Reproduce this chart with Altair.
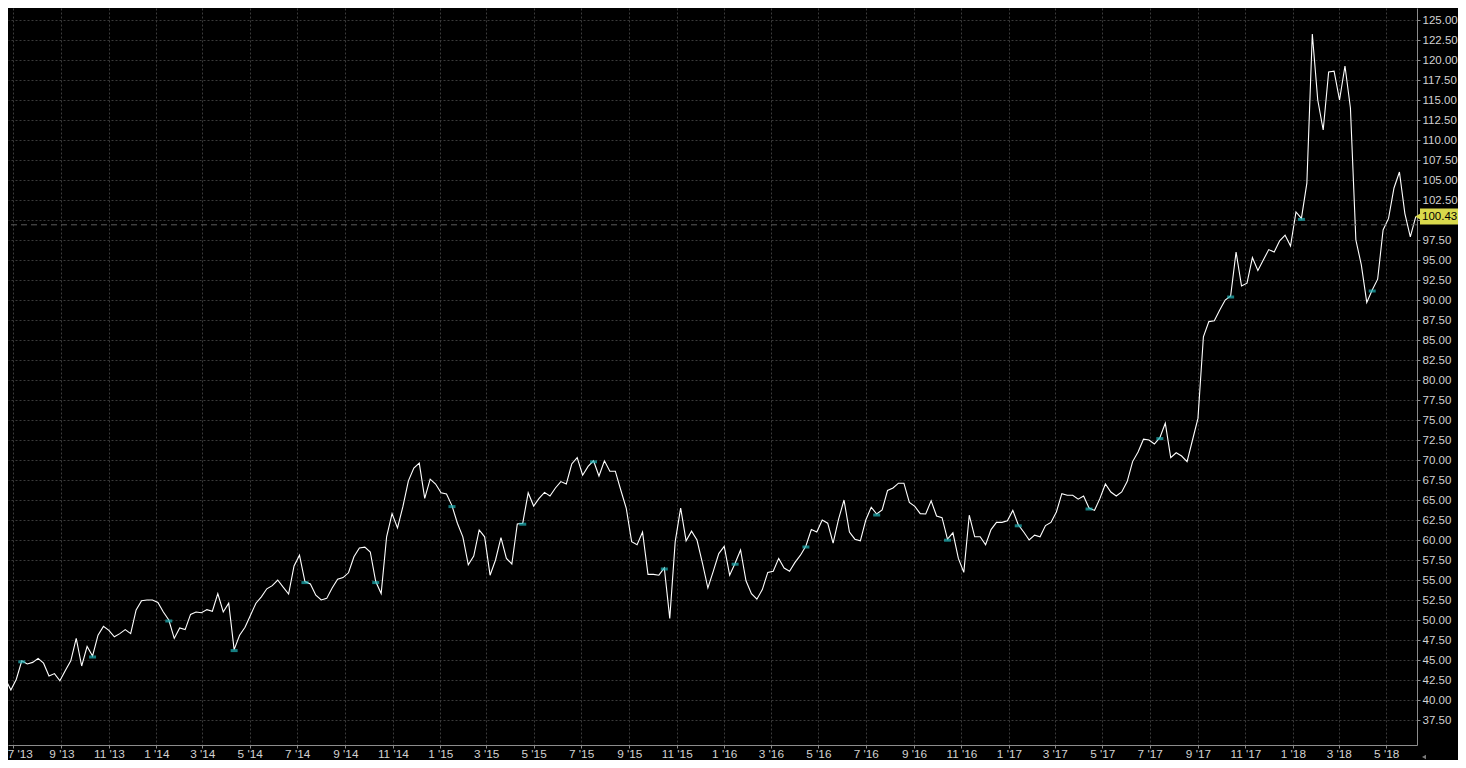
import altair as alt
import pandas as pd

# ---------------- data (weekly closes) ----------------
start_date = "2013-06-14"
closes = [
    43.1, 42.6, 41.25, 42.6, 44.9, 44.5, 44.7, 45.2, 44.6, 43.0,
    43.3, 42.4, 43.7, 44.9, 47.7, 44.25, 46.7, 45.5, 48.1, 49.2,
    48.7, 47.9, 48.3, 48.8, 48.3, 51.25, 52.4, 52.5, 52.5, 52.2,
    51.0, 50.0, 47.7, 49.0, 48.8, 50.7, 51.0, 50.9, 51.3, 51.1,
    53.3, 51.0, 52.1, 46.3, 48.1, 49.1, 50.6, 52.1, 52.9, 53.9,
    54.3, 55.0, 54.1, 53.25, 56.75, 58.1, 54.8, 54.5, 53.1, 52.5,
    52.7, 54.0, 55.1, 55.3, 55.9, 57.9, 59.0, 59.1, 58.5, 54.8,
    53.3, 60.4, 63.3, 61.5, 64.2, 67.4, 69.0, 69.6, 65.2, 67.6,
    67.0, 65.9, 65.75, 64.3, 62.1, 60.4, 56.9, 58.0, 61.25, 60.4,
    55.6, 57.5, 60.3, 57.7, 57.0, 62.0, 62.1, 65.9, 64.25, 65.2,
    65.95, 65.5, 66.5, 67.3, 67.0, 69.5, 70.3, 68.1, 69.2, 69.9,
    68.0, 69.9, 68.6, 68.6, 66.25, 64.0, 59.8, 59.4, 61.0, 55.7,
    55.7, 55.6, 56.5, 50.2, 59.8, 64.0, 59.9, 61.1, 60.0, 57.1,
    54.0, 56.1, 58.3, 59.2, 55.6, 57.1, 58.75, 54.9, 53.3, 52.6,
    53.8, 55.95, 56.1, 57.7, 56.5, 56.1, 57.2, 58.1, 59.25, 61.3,
    61.0, 62.5, 62.1, 59.6, 62.6, 65.0, 61.0, 60.1, 59.9, 62.5,
    64.1, 63.25, 63.75, 66.2, 66.5, 67.1, 67.1, 64.7, 64.2, 63.3,
    63.25, 64.9, 63.0, 62.8, 60.1, 60.9, 57.7, 55.95, 63.1, 60.4,
    60.4, 59.4, 61.3, 62.2, 62.2, 62.4, 63.7, 61.9, 61.0, 60.0,
    60.6, 60.4, 61.8, 62.2, 63.5, 65.8, 65.6, 65.6, 65.1, 65.5,
    64.0, 63.7, 65.2, 67.0, 66.0, 65.5, 66.0, 67.3, 69.8, 71.0,
    72.6, 72.5, 72.0, 72.8, 74.6, 70.3, 70.9, 70.5, 69.8, 72.5,
    75.2, 85.4, 87.3, 87.4, 88.75, 90.0, 90.5, 96.0, 91.75, 92.1,
    95.3, 93.7, 95.0, 96.3, 96.0, 97.4, 98.1, 96.75, 101.0, 100.2,
    104.6, 123.25, 115.0, 111.25, 118.5, 118.6, 115.0, 119.25, 114.0, 97.5,
    94.4, 89.7, 91.25, 92.6, 98.75, 100.2, 104.0, 106.0, 100.8, 97.9,
    100.43,
]
# weeks (positions in the series) that carry the small cyan event marker
event_weeks = [4, 17, 31, 43, 56, 69, 83, 96, 109, 122, 135, 148, 161, 174,
               187, 200, 213, 226, 239, 252]
last_price = 100.43
last_label = "100.43"
prev_line = 99.4

x_tick_months = [(2013, 7), (2013, 9), (2013, 11),
                 (2014, 1), (2014, 3), (2014, 5), (2014, 7), (2014, 9), (2014, 11),
                 (2015, 1), (2015, 3), (2015, 5), (2015, 7), (2015, 9), (2015, 11),
                 (2016, 1), (2016, 3), (2016, 5), (2016, 7), (2016, 9), (2016, 11),
                 (2017, 1), (2017, 3), (2017, 5), (2017, 7), (2017, 9), (2017, 11),
                 (2018, 1), (2018, 3), (2018, 5)]
y_ticks = [37.5, 40.0, 42.5, 45.0, 47.5, 50.0, 52.5, 55.0, 57.5, 60.0, 62.5,
           65.0, 67.5, 70.0, 72.5, 75.0, 77.5, 80.0, 82.5, 85.0, 87.5, 90.0,
           92.5, 95.0, 97.5, 100.0, 102.5, 105.0, 107.5, 110.0, 112.5, 115.0,
           117.5, 120.0, 122.5, 125.0]

# ---------------- tables ----------------
dates = pd.date_range(start_date, periods=len(closes), freq="7D")
df = pd.DataFrame({"date": dates, "close": closes})
ev = df.iloc[event_weeks].reset_index(drop=True)
lbl = pd.DataFrame({"close": [last_price],
                    "lo": [last_price - 1.0], "hi": [last_price + 1.0],
                    "txt": [last_label]})
prev_df = pd.DataFrame({"close": [prev_line]})
one = pd.DataFrame({"a": [0]})

FONT = "Liberation Sans"
W, H = 1409, 737

x_scale = alt.Scale(domain=[alt.DateTime(year=2013, month=6, date=24, hours=7),
                            alt.DateTime(year=2018, month=6, date=9, hours=14)])
y_scale = alt.Scale(domain=[34.375, 126.5], nice=False, zero=False)

x_axis = alt.Axis(
    values=[alt.DateTime(year=y, month=m, date=1) for y, m in x_tick_months],
    format="%-m '%y", formatType="time", title=None, orient="bottom",
    labelFlush=8, labelFlushOffset=6, labelOverlap=False,
    tickSize=3, labelPadding=0, grid=True, labelFontSize=11.8,
)
y_axis = alt.Axis(
    values=y_ticks, format=".2f", title=None, orient="right",
    labelAlign="left", labelPadding=2, tickSize=3, grid=True, labelOverlap=False,
    labelFontSize=11.5,
    labelExpr="abs(datum.value - %s) < 1.5 ? '' : datum.label" % last_price,
)

X = alt.X("date:T", scale=x_scale, axis=x_axis)
Y = alt.Y("close:Q", scale=y_scale, axis=y_axis)

line = alt.Chart(df).mark_line(color="#ffffff", strokeWidth=1.1, clip=True).encode(x=X, y=Y)

prev_rule = alt.Chart(prev_df).mark_rule(color="#5c5c5c", strokeDash=[6, 4], strokeWidth=1,
                                         clip=True).encode(y=Y)

events = alt.Chart(ev).mark_tick(orient="horizontal", color="#1fb3b8", size=7, thickness=3,
                                 yOffset=1, clip=True).encode(x=X, y=Y)

box = alt.Chart(lbl).mark_rect(color="#d9d94c").encode(
    x=alt.value(1412), x2=alt.value(1450),
    y=alt.Y("hi:Q", scale=y_scale, axis=y_axis), y2="lo:Q",
)
notch = alt.Chart(lbl).mark_point(shape="triangle-left", filled=True, color="#d9d94c",
                                  size=45, opacity=1).encode(x=alt.value(1410), y=Y)
box_text = alt.Chart(lbl).mark_text(align="left", baseline="middle", font=FONT, fontSize=11.5,
                                    color="#000000", dy=0.5).encode(
    x=alt.value(1414), y=Y, text="txt:N",
)
corner = alt.Chart(one).mark_point(shape="triangle-left", filled=True, color="#7a7a7a",
                                   size=22, opacity=1).encode(
    x=alt.value(1416), y=alt.value(749),
)

chart = alt.layer(line, prev_rule, events, box, notch, box_text, corner).properties(
    width=W, height=H,
    background="#000000",
    autosize=alt.AutoSizeParams(type="none"),
    padding={"left": 0, "top": 0, "right": 41, "bottom": 15},
).configure_view(strokeWidth=0).configure_axis(
    domainColor="#8c8c8c", tickColor="#8c8c8c", labelColor="#d2d2d2",
    labelFont=FONT, labelFontSize=12, gridColor="#3a3a3a", gridDash=[2, 2],
    gridWidth=1, domainWidth=1,
).configure_axisY(labelOverlap=False).configure_axisX(labelOverlap=False)

chart.save("out.html", embed_options={"renderer": "svg", "actions": False})
